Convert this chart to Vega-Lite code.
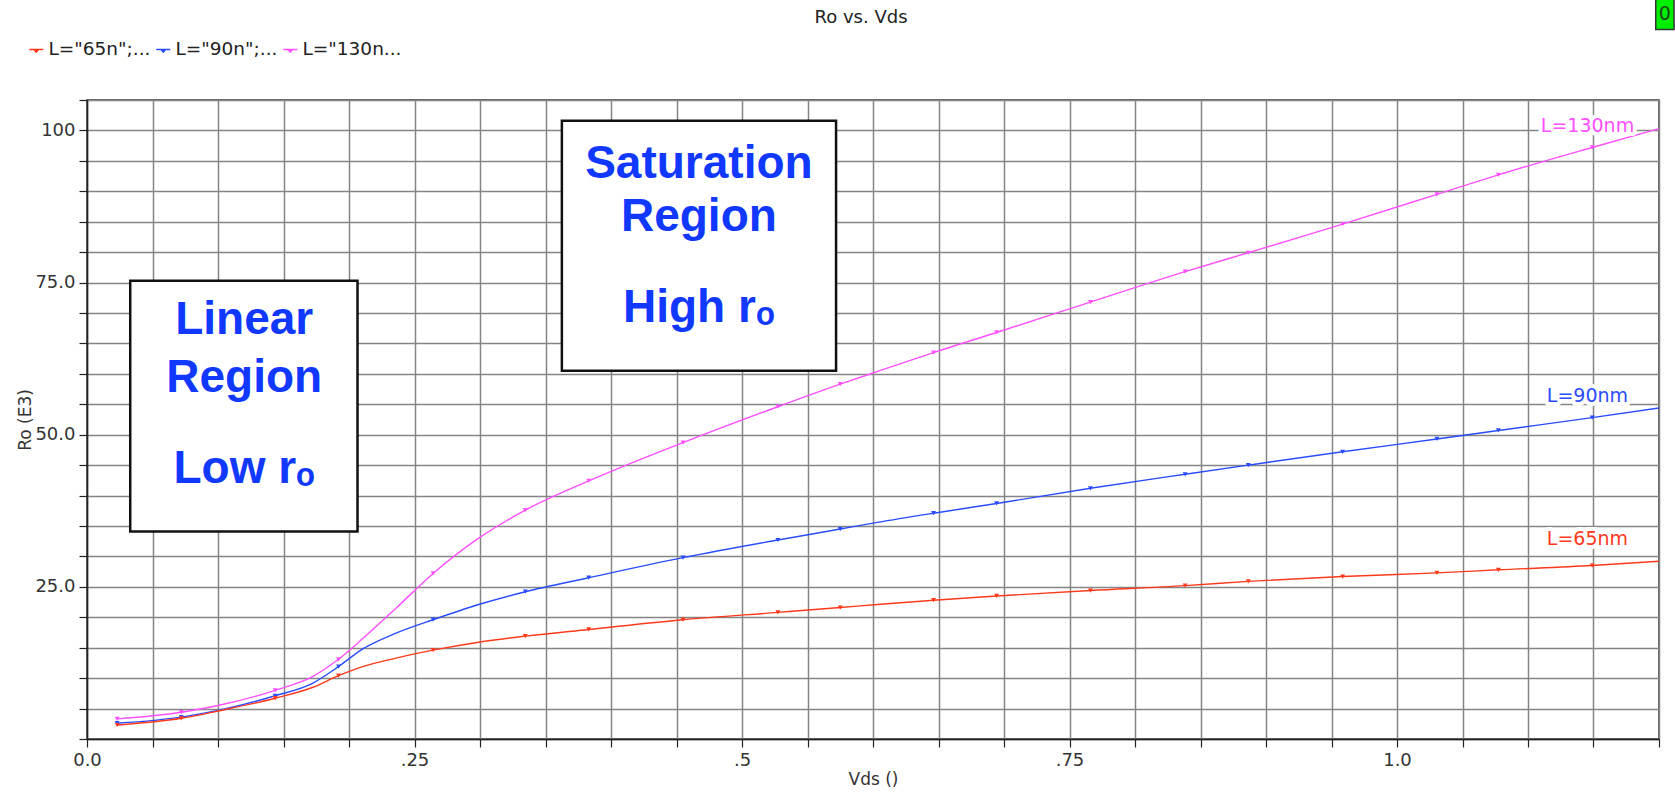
{
  "$schema": "https://vega.github.io/schema/vega-lite/v6.json",
  "autosize": "none",
  "width": 1572,
  "height": 639,
  "padding": {"left": 87, "top": 100, "right": 16, "bottom": 56},
  "background": "white",
  "title": {"text": "Ro vs. Vds", "fontSize": 18, "font": "DejaVu Sans", "fontWeight": "normal", "color": "#222", "offset": 0, "dy": 29, "anchor": "middle", "dx": -12},
  "config": {
    "view": {"stroke": "#333", "strokeWidth": 1.5},
    "font": "DejaVu Sans",
    "axis": {"gridColor": "#858585", "gridWidth": 1.5, "gridOpacity": 1, "domainColor": "#222", "domainWidth": 1.5, "tickColor": "#222", "tickWidth": 1.2, "tickSize": 8, "labelFont": "DejaVu Sans", "labelFontSize": 18, "labelColor": "#333", "titleFont": "DejaVu Sans", "titleFontSize": 17, "titleFontWeight": "normal", "titleColor": "#333", "labelOverlap": false, "labelFlush": false}
  },
  "datasets": {
    "curves": [
      {"L": "130n", "v": 0.023, "R": 3.3, "m": 1},
      {"L": "130n", "v": 0.072, "R": 4.4, "m": 1},
      {"L": "130n", "v": 0.1, "R": 5.5, "m": 0},
      {"L": "130n", "v": 0.1436, "R": 8.0, "m": 1},
      {"L": "130n", "v": 0.1725, "R": 10.3, "m": 0},
      {"L": "130n", "v": 0.192, "R": 13.1, "m": 1},
      {"L": "130n", "v": 0.2105, "R": 16.5, "m": 0},
      {"L": "130n", "v": 0.2359, "R": 21.5, "m": 0},
      {"L": "130n", "v": 0.2642, "R": 27.2, "m": 1},
      {"L": "130n", "v": 0.299, "R": 33.0, "m": 0},
      {"L": "130n", "v": 0.3346, "R": 37.6, "m": 1},
      {"L": "130n", "v": 0.383, "R": 42.4, "m": 1},
      {"L": "130n", "v": 0.455, "R": 48.7, "m": 1},
      {"L": "130n", "v": 0.5274, "R": 54.6, "m": 1},
      {"L": "130n", "v": 0.575, "R": 58.3, "m": 1},
      {"L": "130n", "v": 0.6035, "R": 60.4, "m": 0},
      {"L": "130n", "v": 0.6462, "R": 63.5, "m": 1},
      {"L": "130n", "v": 0.6944, "R": 66.8, "m": 1},
      {"L": "130n", "v": 0.766, "R": 71.8, "m": 1},
      {"L": "130n", "v": 0.8383, "R": 76.8, "m": 1},
      {"L": "130n", "v": 0.8865, "R": 79.9, "m": 1},
      {"L": "130n", "v": 0.9585, "R": 84.6, "m": 1},
      {"L": "130n", "v": 1.0305, "R": 89.5, "m": 1},
      {"L": "130n", "v": 1.0774, "R": 92.7, "m": 1},
      {"L": "130n", "v": 1.149, "R": 97.2, "m": 1},
      {"L": "130n", "v": 1.2, "R": 100.3, "m": 0},
      {"L": "90n", "v": 0.023, "R": 2.6, "m": 1},
      {"L": "90n", "v": 0.072, "R": 3.6, "m": 1},
      {"L": "90n", "v": 0.1, "R": 4.7, "m": 0},
      {"L": "90n", "v": 0.1436, "R": 7.1, "m": 1},
      {"L": "90n", "v": 0.1725, "R": 9.2, "m": 0},
      {"L": "90n", "v": 0.192, "R": 11.9, "m": 1},
      {"L": "90n", "v": 0.2105, "R": 14.8, "m": 0},
      {"L": "90n", "v": 0.2359, "R": 17.4, "m": 0},
      {"L": "90n", "v": 0.2642, "R": 19.6, "m": 1},
      {"L": "90n", "v": 0.299, "R": 22.1, "m": 0},
      {"L": "90n", "v": 0.3346, "R": 24.2, "m": 1},
      {"L": "90n", "v": 0.383, "R": 26.5, "m": 1},
      {"L": "90n", "v": 0.455, "R": 29.8, "m": 1},
      {"L": "90n", "v": 0.5274, "R": 32.7, "m": 1},
      {"L": "90n", "v": 0.575, "R": 34.5, "m": 1},
      {"L": "90n", "v": 0.6035, "R": 35.6, "m": 0},
      {"L": "90n", "v": 0.6462, "R": 37.1, "m": 1},
      {"L": "90n", "v": 0.6944, "R": 38.7, "m": 1},
      {"L": "90n", "v": 0.766, "R": 41.2, "m": 1},
      {"L": "90n", "v": 0.8383, "R": 43.5, "m": 1},
      {"L": "90n", "v": 0.8865, "R": 45.0, "m": 1},
      {"L": "90n", "v": 0.9585, "R": 47.2, "m": 1},
      {"L": "90n", "v": 1.0305, "R": 49.3, "m": 1},
      {"L": "90n", "v": 1.0774, "R": 50.7, "m": 1},
      {"L": "90n", "v": 1.149, "R": 52.8, "m": 1},
      {"L": "90n", "v": 1.2, "R": 54.4, "m": 0},
      {"L": "65n", "v": 0.023, "R": 2.3, "m": 1},
      {"L": "65n", "v": 0.072, "R": 3.4, "m": 1},
      {"L": "65n", "v": 0.1, "R": 4.6, "m": 0},
      {"L": "65n", "v": 0.1436, "R": 6.7, "m": 1},
      {"L": "65n", "v": 0.1725, "R": 8.5, "m": 0},
      {"L": "65n", "v": 0.192, "R": 10.4, "m": 1},
      {"L": "65n", "v": 0.2105, "R": 11.9, "m": 0},
      {"L": "65n", "v": 0.2359, "R": 13.3, "m": 0},
      {"L": "65n", "v": 0.2642, "R": 14.6, "m": 1},
      {"L": "65n", "v": 0.299, "R": 15.9, "m": 0},
      {"L": "65n", "v": 0.3346, "R": 16.9, "m": 1},
      {"L": "65n", "v": 0.383, "R": 18.0, "m": 1},
      {"L": "65n", "v": 0.455, "R": 19.6, "m": 1},
      {"L": "65n", "v": 0.5274, "R": 20.8, "m": 1},
      {"L": "65n", "v": 0.575, "R": 21.6, "m": 1},
      {"L": "65n", "v": 0.6035, "R": 22.1, "m": 0},
      {"L": "65n", "v": 0.6462, "R": 22.8, "m": 1},
      {"L": "65n", "v": 0.6944, "R": 23.5, "m": 1},
      {"L": "65n", "v": 0.766, "R": 24.4, "m": 1},
      {"L": "65n", "v": 0.8383, "R": 25.2, "m": 1},
      {"L": "65n", "v": 0.8865, "R": 25.9, "m": 1},
      {"L": "65n", "v": 0.9585, "R": 26.7, "m": 1},
      {"L": "65n", "v": 1.0305, "R": 27.3, "m": 1},
      {"L": "65n", "v": 1.0774, "R": 27.8, "m": 1},
      {"L": "65n", "v": 1.149, "R": 28.5, "m": 1},
      {"L": "65n", "v": 1.2, "R": 29.2, "m": 0}
    ],
    "boxes": [
      {"v": 0.033, "v2": 0.2065, "R": 75.3, "R2": 34.1},
      {"v": 0.3625, "v2": 0.5718, "R": 101.6, "R2": 60.5}
    ],
    "boxtext": [
      {"v": 0.12, "R": 66.6, "t": "Linear"},
      {"v": 0.12, "R": 57.0, "t": "Region"},
      {"v": 0.12, "R": 42.1, "t": "Low rₒ"},
      {"v": 0.4671, "R": 92.2, "t": "Saturation"},
      {"v": 0.4671, "R": 83.4, "t": "Region"},
      {"v": 0.4671, "R": 68.5, "t": "High rₒ"}
    ],
    "ends": [
      {"L": "130n", "v": 1.1454, "R": 100.7, "t": "L=130nm"},
      {"L": "90n", "v": 1.1454, "R": 56.3, "t": "L=90nm"},
      {"L": "65n", "v": 1.1454, "R": 32.8, "t": "L=65nm"}
    ],
    "flagbox": [{"v": 1.1975, "v2": 1.2115, "R": 121.7, "R2": 116.6}],
    "flagtext": [{"v": 1.2045, "R": 119.2, "t": "0"}]
  },
  "encoding": {
    "x": {"field": "v", "type": "quantitative", "title": "Vds ()",
          "scale": {"domain": [0, 1.2], "nice": false, "zero": false},
          "axis": {"values": [0, 0.05, 0.1, 0.15, 0.2, 0.25, 0.3, 0.35, 0.4, 0.45, 0.5, 0.55, 0.6, 0.65, 0.7, 0.75, 0.8, 0.85, 0.9, 0.95, 1.0, 1.05, 1.1, 1.15, 1.2],
                   "labelExpr": "datum.value == 0 ? '0.0' : datum.value == 0.25 ? '.25' : datum.value == 0.5 ? '.5' : datum.value == 0.75 ? '.75' : datum.value == 1 ? '1.0' : ''",
                   "labelPadding": 4, "titlePadding": 2, "labelFlush": false, "labelOverlap": false}},
    "y": {"field": "R", "type": "quantitative", "title": "Ro (E3)",
          "scale": {"domain": [0, 105], "nice": false, "zero": false},
          "axis": {"values": [0, 5, 10, 15, 20, 25, 30, 35, 40, 45, 50, 55, 60, 65, 70, 75, 80, 85, 90, 95, 100, 105],
                   "labelExpr": "datum.value == 100 ? '100' : (datum.value % 25 == 0 && datum.value > 0) ? format(datum.value, '.1f') : ''",
                   "labelPadding": 4, "titlePadding": 0, "labelFlush": false, "labelOverlap": false}}
  },
  "layer": [
    {
      "data": {"name": "curves"},
      "mark": {"type": "line", "interpolate": "monotone", "strokeWidth": 1.4},
      "encoding": {
        "color": {"field": "L", "type": "nominal",
                  "scale": {"domain": ["65n", "90n", "130n"], "range": ["#ff3a1c", "#2a4cff", "#ff50ff"]},
                  "legend": {"orient": "none", "legendX": -60, "legendY": -60, "direction": "horizontal", "title": null,
                             "labelExpr": "datum.label == '130n' ? 'L=\"130n...' : 'L=\"' + datum.label + '\";...'",
                             "labelFontSize": 18.5, "labelFont": "DejaVu Sans", "labelColor": "#222", "labelOffset": 3, "columnPadding": 2,
                             "symbolType": "M-1,0L1,0M-0.35,0L0,0.4L0.35,0Z", "symbolSize": 196, "symbolStrokeWidth": 1.5}}
      }
    },
    {
      "data": {"name": "curves"},
      "transform": [{"filter": "datum.m == 1"}],
      "mark": {"type": "point", "shape": "triangle-down", "filled": true, "size": 24, "opacity": 1},
      "encoding": {
        "color": {"field": "L", "type": "nominal", "legend": null}
      }
    },
    {
      "data": {"name": "boxes"},
      "mark": {"type": "rect", "fill": "white", "stroke": "#111", "strokeWidth": 2.5},
      "encoding": {
        "x2": {"field": "v2"},
        "y2": {"field": "R2"}
      }
    },
    {
      "data": {"name": "boxtext"},
      "mark": {"type": "text", "font": "Liberation Sans", "fontWeight": "bold", "fontSize": 46, "color": "#1038ff", "align": "center", "baseline": "alphabetic"},
      "encoding": {
        "text": {"field": "t"}
      }
    },
    {
      "data": {"name": "ends"},
      "mark": {"type": "text", "font": "DejaVu Sans", "fontSize": 19, "align": "center", "baseline": "middle", "fill": "white", "stroke": "white", "strokeWidth": 8, "strokeJoin": "round"},
      "encoding": {
        "text": {"field": "t"}
      }
    },
    {
      "data": {"name": "ends"},
      "mark": {"type": "text", "font": "DejaVu Sans", "fontSize": 19, "align": "center", "baseline": "middle"},
      "encoding": {
        "text": {"field": "t"},
        "color": {"field": "L", "type": "nominal", "legend": null}
      }
    },
    {
      "data": {"name": "flagbox"},
      "mark": {"type": "rect", "fill": "#00ee00", "stroke": "#333", "strokeWidth": 1.5, "clip": false},
      "encoding": {
        "x2": {"field": "v2"},
        "y2": {"field": "R2"}
      }
    },
    {
      "data": {"name": "flagtext"},
      "mark": {"type": "text", "font": "DejaVu Sans", "fontSize": 19, "color": "#1a4a1a", "align": "center", "baseline": "middle", "clip": false},
      "encoding": {
        "text": {"field": "t"}
      }
    }
  ]
}
